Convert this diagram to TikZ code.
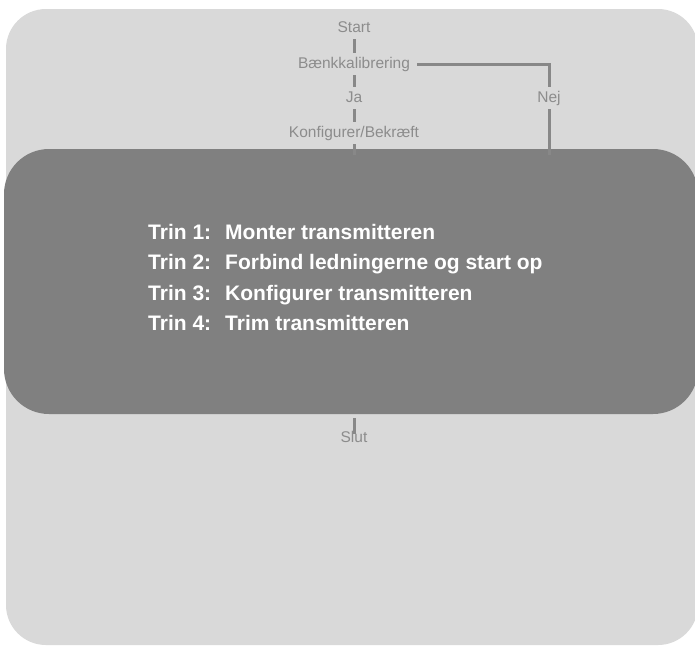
\documentclass[tikz,border=0pt]{standalone}
\usepackage{fontspec}
\setmainfont{Liberation Sans}
\usetikzlibrary{positioning}
\definecolor{panellight}{RGB}{217,217,217}
\definecolor{paneldark}{RGB}{128,128,128}
\definecolor{flowgray}{RGB}{140,140,140}
\definecolor{flowline}{RGB}{136,136,136}

\begin{document}
\begin{tikzpicture}[
    x=1pt, y=-1pt,
    flow/.style={font=\fontsize{15.5}{18}\selectfont, text=flowgray, text height=11pt, text depth=3pt, inner xsep=7pt, inner ysep=4pt},
    link/.style={flowline, line width=3pt},
    stepline/.style={font=\fontsize{21}{25}\selectfont\bfseries, text=white, anchor=base west, inner sep=0pt}
]
\useasboundingbox (0,0) rectangle (695,646);

% Panels
\fill[panellight, rounded corners=40pt] (6,9) rectangle (698,645);
\fill[paneldark, rounded corners=45pt] (4,149) rectangle (698,414);

% Flow labels
\node[flow] (start) at (354,28) {Start};
\node[flow] (bench) at (354,64) {Bænkkalibrering};
\node[flow] (ja) at (354,98) {Ja};
\node[flow] (nej) at (549,98) {Nej};
\node[flow] (konf) at (354,133) {Konfigurer/Bekræft};
\node[flow] (slut) at (354,438) {Slut};

\coordinate (konfend) at (354,155);
\coordinate (nejend) at (549,155);
\coordinate (slutin) at (354,418);

% Steps
\node[stepline] (trin1) at (148,239) {\makebox[77pt][l]{Trin 1:}Monter transmitteren};
\node[stepline] (trin2) at (148,269.5) {\makebox[77pt][l]{Trin 2:}Forbind ledningerne og start op};
\node[stepline] (trin3) at (148,300) {\makebox[77pt][l]{Trin 3:}Konfigurer transmitteren};
\node[stepline] (trin4) at (148,330) {\makebox[77pt][l]{Trin 4:}Trim transmitteren};

% Connectors
\draw[link] (start) -- (bench);
\draw[link] (bench) -- (ja);
\draw[link] (ja) -- (konf);
\draw[link] (konf) -- (konfend);
\draw[link] (bench) -| (nej);
\draw[link] (nej) -- (nejend);
\draw[link] (slutin) -- ([yshift=-7pt]slut.north);
\end{tikzpicture}
\end{document}
